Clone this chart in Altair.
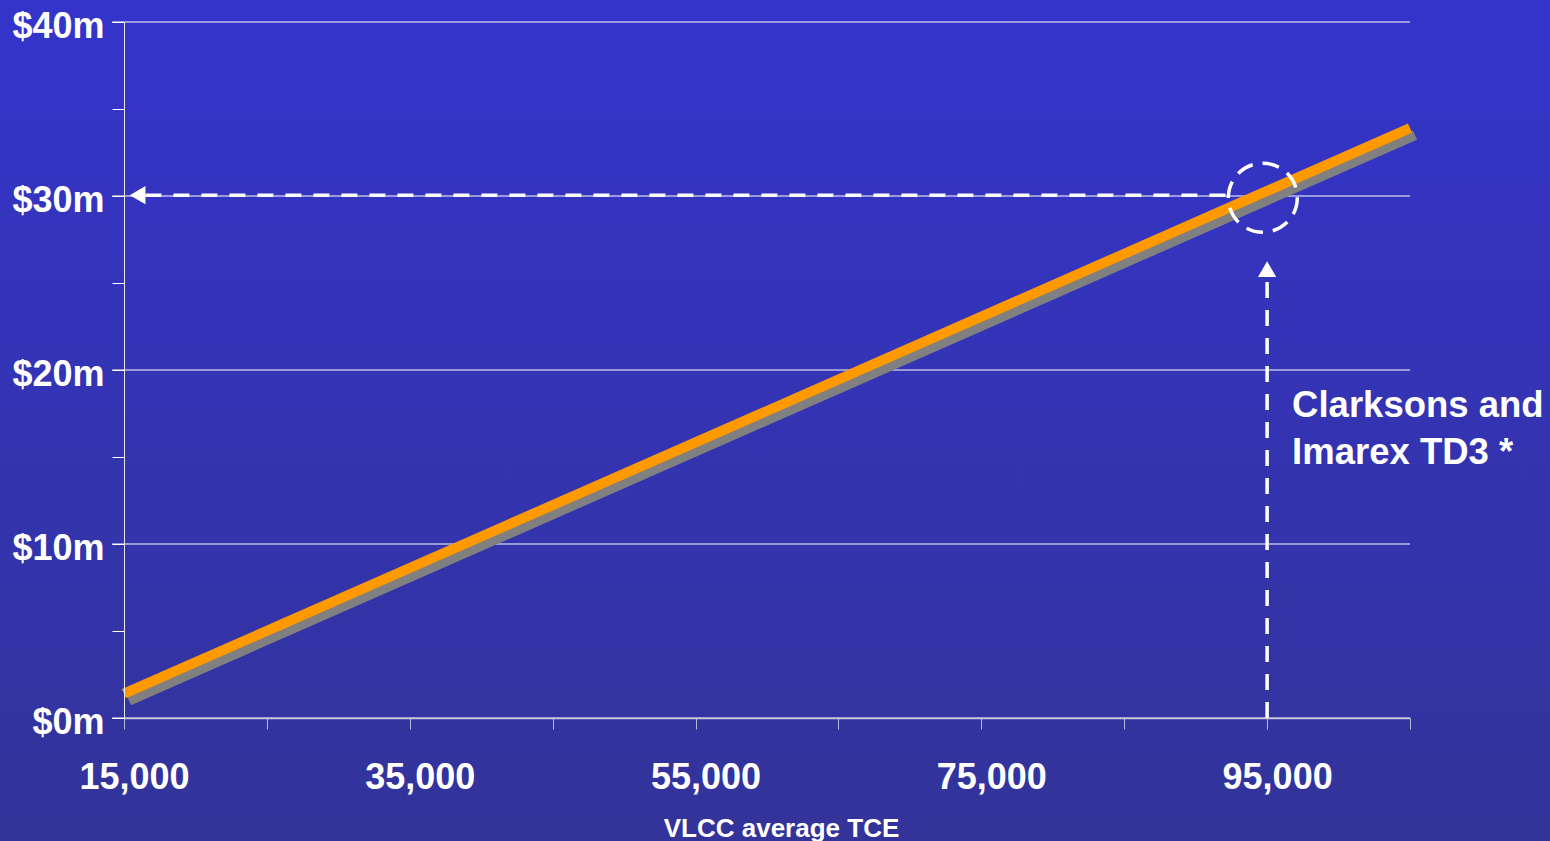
import altair as alt
import pandas as pd

# ---- data ----
line_x = [15000, 105000]
line_y = [1.4, 33.9]
shadow_x = [15350, 105350]
shadow_y = [1.0, 33.5]

x_ticks = [15000, 25000, 35000, 45000, 55000, 65000, 75000, 85000, 95000, 105000]
y_ticks = [0, 5, 10, 15, 20, 25, 30, 35, 40]
grid_y = [0, 10, 20, 30, 40]

h_arrow = {"x1": [16500], "x2": [92700], "y": [30.05]}
v_arrow = {"x": [95000], "y1": [0], "y2": [25.3]}
arrow_left = {"x": [15950], "y": [30.05]}
arrow_up = {"x": [95000], "y": [25.8]}
circle_pt = {"x": [94700], "y": [29.9]}
annotation_lines = ["Clarksons and", "Imarex TD3 *"]
annotation_pos = {"x": [96750], "y": [17.3]}
x_title = "VLCC average TCE"

FONT = "Liberation Sans"
W, H = 1286, 696

xscale = alt.Scale(domain=[15000, 105000], nice=False, zero=False)
yscale = alt.Scale(domain=[0, 40], nice=False, zero=False)

x_axis = alt.Axis(
    values=x_ticks,
    labelExpr="datum.value % 20000 == 15000 ? format(datum.value, ',') : ''",
    tickSize=11, tickColor="#b8b8d8", domainColor="#c8c8dc", domainWidth=1.5,
    labelFont=FONT, labelFontSize=36, labelFontWeight="bold", labelColor="white",
    labelBaseline="alphabetic", labelPadding=59, labelOffset=10,
    labelFlush=False, labelOverlap=False, grid=False,
    title=x_title, titleFont=FONT, titleFontSize=26, titleFontWeight="bold",
    titleColor="white", titleX=657, titleY=118, titleBaseline="alphabetic",
    titleAlign="center", zindex=1,
)
y_axis = alt.Axis(
    values=y_ticks,
    labelExpr="datum.value % 10 == 0 ? '$' + datum.value + 'm' : ''",
    tickSize=12, tickColor="white", domainColor="#e8e8f4",
    labelFont=FONT, labelFontSize=36, labelFontWeight="bold", labelColor="white",
    labelBaseline="alphabetic", labelPadding=8, labelOffset=15,
    labelFlush=False, labelOverlap=False, grid=False, title=None, zindex=1,
)


def X(field):
    return alt.X(field, type="quantitative", scale=xscale, axis=x_axis)


def Y(field):
    return alt.Y(field, type="quantitative", scale=yscale, axis=y_axis)


# background gradient
bg = alt.Chart(pd.DataFrame({"a": [1]})).mark_rect(
    color=alt.LinearGradient(
        gradient="linear",
        stops=[alt.GradientStop(color="#3434cc", offset=0),
               alt.GradientStop(color="#333399", offset=1)],
        x1=0, x2=0, y1=0, y2=1,
    )
).encode(
    x=alt.value(-124), x2=alt.value(W + 140),
    y=alt.value(-22), y2=alt.value(H + 123),
)

grid = alt.Chart(pd.DataFrame({"g": grid_y})).mark_rule(color="white", strokeWidth=1.2).encode(
    y=Y("g"),
    x=alt.value(-12), x2=alt.value(W),
)

line_df = pd.DataFrame({"x": line_x, "y": line_y})
shadow_df = pd.DataFrame({"x": shadow_x, "y": shadow_y})

shadow = alt.Chart(shadow_df).mark_line(color="#808080", strokeWidth=10, strokeCap="butt").encode(
    x=X("x"), y=Y("y"),
)

main = alt.Chart(line_df).mark_line(color="#ff9900", strokeWidth=10, strokeCap="butt").encode(
    x=X("x"), y=Y("y"),
)

hline = alt.Chart(pd.DataFrame(h_arrow)).mark_rule(
    color="white", strokeWidth=3.5, strokeDash=[16, 12]
).encode(
    x=X("x1"), x2="x2:Q", y=Y("y"),
)

vline = alt.Chart(pd.DataFrame(v_arrow)).mark_rule(
    color="white", strokeWidth=3.5, strokeDash=[16, 12]
).encode(
    x=X("x"), y=Y("y1"), y2="y2:Q",
)

head_left = alt.Chart(pd.DataFrame(arrow_left)).mark_point(
    shape="triangle-left", filled=True, size=330, color="white", opacity=1
).encode(x=X("x"), y=Y("y"))

head_up = alt.Chart(pd.DataFrame(arrow_up)).mark_point(
    shape="triangle-up", filled=True, size=330, color="white", opacity=1
).encode(x=X("x"), y=Y("y"))

circ = alt.Chart(pd.DataFrame(circle_pt)).mark_point(
    shape="circle", filled=False, size=4761, color="white", strokeWidth=3.5,
    strokeDash=[17, 10], opacity=1
).encode(x=X("x"), y=Y("y"))

ann_df = pd.DataFrame({**annotation_pos, "t": ["\n".join(annotation_lines)]})
ann = alt.Chart(ann_df).mark_text(
    font=FONT, fontSize=36.5, fontWeight="bold", color="white", align="left",
    baseline="alphabetic", lineBreak="\n", lineHeight=47
).encode(x=X("x"), y=Y("y"), text="t:N")

chart = alt.layer(bg, grid, shadow, main, hline, vline, head_left, head_up, circ, ann).properties(
    width=W, height=H,
    padding={"left": 124, "top": 22, "right": 140, "bottom": 123},
    autosize=alt.AutoSizeParams(type="none"),
    background="#333399",
).configure_view(stroke=None)

chart.save("out.html", embed_options={"renderer": "svg", "actions": False})
